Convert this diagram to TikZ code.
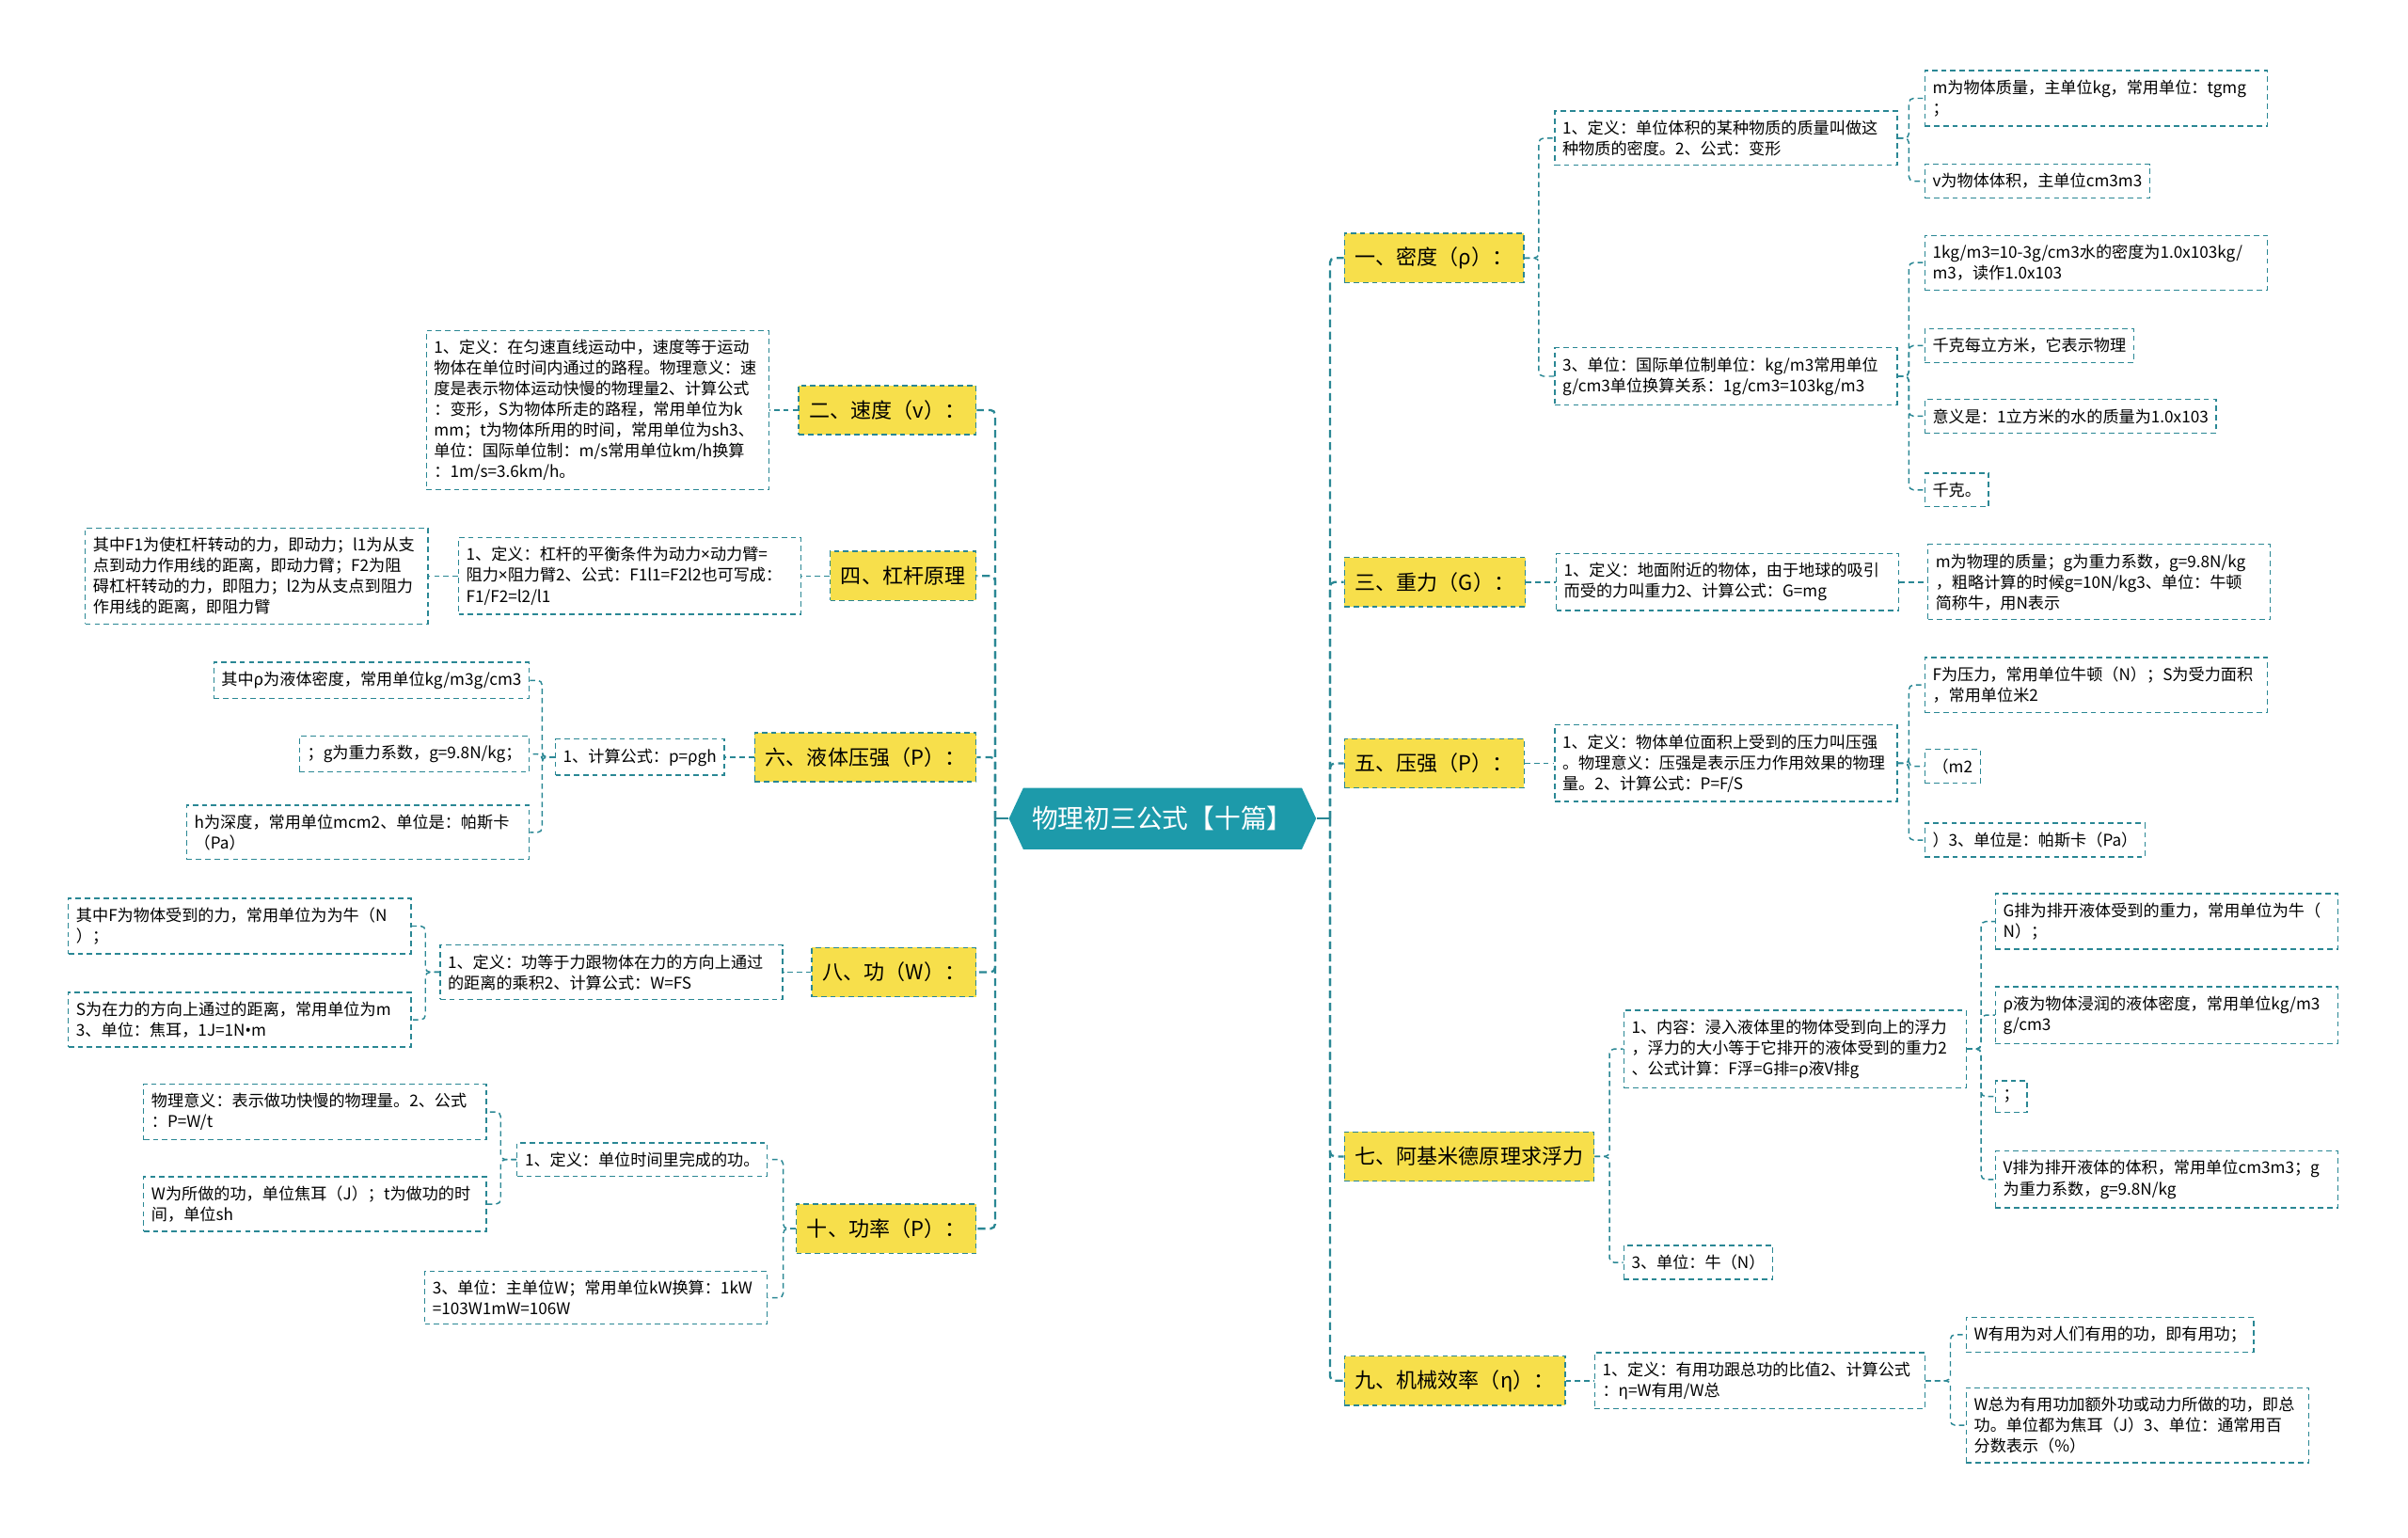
\documentclass[tikz,border=0pt]{standalone}
\usepackage{fontspec}
\newfontfamily\cjk{Noto Sans CJK SC}
\newfontfamily\latinf{Noto Sans}
\usetikzlibrary{shapes.symbols}
\definecolor{teal1}{HTML}{2A8794}
\definecolor{hubc}{HTML}{1D9AAA}
\definecolor{yel}{HTML}{F7DF4B}
\tikzset{
  leaf/.style={draw=teal1, line width=0.8pt, dash pattern=on 3.5pt off 2.5pt, fill=white,
    font=\cjk\fontsize{10.5}{13.5}\selectfont, align=left, inner xsep=5pt, inner ysep=6pt},
  wide/.style={leaf, text width=213pt},
  topic/.style={draw=teal1, line width=0.9pt, dash pattern=on 3.5pt off 2.5pt, fill=yel,
    font=\cjk\fontsize{13.5}{16}\selectfont, minimum height=32pt, inner xsep=7pt},
  hubnode/.style={shape=signal, signal to=west and east, signal pointer angle=130,
    fill=hubc, text=white, font=\cjk\fontsize{17}{20}\selectfont,
    minimum width=200pt, minimum height=40pt, inner sep=0pt},
  conn/.style={draw=teal1, line width=0.9pt, dash pattern=on 3.5pt off 2.5pt, rounded corners=3pt},
  trunk/.style={draw=teal1, line width=1.4pt, dash pattern=on 5pt off 3pt, rounded corners=3pt},
  stub/.style={draw=teal1, line width=1.4pt}
}
\newcommand{\mybul}{{\latinf •}}
\newcommand{\mytimes}{{\latinf ×}}
\begin{document}
\begin{tikzpicture}[x=1pt,y=-1pt]
\useasboundingbox (0,0) rectangle (1568,1001);

% hub
\node[hubnode] (hub) at (757,533) {物理初三公式【十篇】};
\coordinate (lsp) at (648,533);
\coordinate (rsp) at (866,533);

% level-1 left
\node[topic, anchor=east] (n2) at (636,267) {二、速度（v）：};
\node[topic, anchor=east] (n4) at (636,375) {四、杠杆原理};
\node[topic, anchor=east] (n6) at (636,493) {六、液体压强（P）：};
\node[topic, anchor=east] (n8) at (636,633) {八、功（W）：};
\node[topic, anchor=east] (n10) at (636,800) {十、功率（P）：};

% level-1 right
\node[topic, anchor=west] (n1) at (875,168) {一、密度（ρ）：};
\node[topic, anchor=west] (n3) at (875,379) {三、重力（G）：};
\node[topic, anchor=west] (n5) at (875,497) {五、压强（P）：};
\node[topic, anchor=west] (n7) at (875,753) {七、阿基米德原理求浮力};
\node[topic, anchor=west] (n9) at (875,899) {九、机械效率（η）：};

% ---- left details
\node[wide, anchor=east] (v1) at (501,267) {1、定义：在匀速直线运动中，速度等于运动\\物体在单位时间内通过的路程。物理意义：速\\度是表示物体运动快慢的物理量2、计算公式\\：变形，S为物体所走的路程，常用单位为k\\mm；t为物体所用的时间，常用单位为sh3、\\单位：国际单位制：m/s常用单位km/h换算\\：1m/s=3.6km/h。};

\node[wide, anchor=east] (l1) at (522,375) {1、定义：杠杆的平衡条件为动力\mytimes 动力臂=\\阻力\mytimes 阻力臂2、公式：F1l1=F2l2也可写成：\\F1/F2=l2/l1};
\node[wide, anchor=east] (l2) at (279,375) {其中F1为使杠杆转动的力，即动力；l1为从支\\点到动力作用线的距离，即动力臂；F2为阻\\碍杠杆转动的力，即阻力；l2为从支点到阻力\\作用线的距离，即阻力臂};

\node[leaf, anchor=east] (p1) at (472,493) {1、计算公式：p=ρgh};
\node[leaf, anchor=east] (p2) at (345,443) {其中ρ为液体密度，常用单位kg/m3g/cm3};
\node[leaf, anchor=east] (p3) at (345,491) {；g为重力系数，g=9.8N/kg；};
\node[wide, anchor=east] (p4) at (345,542) {h为深度，常用单位mcm2、单位是：帕斯卡\\（Pa）};

\node[wide, anchor=east] (w1) at (510,633) {1、定义：功等于力跟物体在力的方向上通过\\的距离的乘积2、计算公式：W=FS};
\node[wide, anchor=east] (w2) at (268,603) {其中F为物体受到的力，常用单位为为牛（N\\）；};
\node[wide, anchor=east] (w3) at (268,664) {S为在力的方向上通过的距离，常用单位为m\\3、单位：焦耳，1J=1N\mybul m};

\node[leaf, anchor=east] (r1) at (500,755) {1、定义：单位时间里完成的功。};
\node[wide, anchor=east] (r2) at (317,724) {物理意义：表示做功快慢的物理量。2、公式\\：P=W/t};
\node[wide, anchor=east] (r3) at (317,784) {W为所做的功，单位焦耳（J）；t为做功的时\\间，单位sh};
\node[wide, anchor=east] (r4) at (500,845) {3、单位：主单位W；常用单位kW换算：1kW\\=103W1mW=106W};

% ---- right details
\node[wide, anchor=west] (d1) at (1012,90) {1、定义：单位体积的某种物质的质量叫做这\\种物质的密度。2、公式：变形};
\node[wide, anchor=west] (d2) at (1253,64) {m为物体质量，主单位kg，常用单位：tgmg\\；};
\node[leaf, anchor=west] (d3) at (1253,118) {v为物体体积，主单位cm3m3};
\node[wide, anchor=west] (d4) at (1012,245) {3、单位：国际单位制单位：kg/m3常用单位\\g/cm3单位换算关系：1g/cm3=103kg/m3};
\node[wide, anchor=west] (d5) at (1253,171) {1kg/m3=10-3g/cm3水的密度为1.0x103kg/\\m3，读作1.0x103};
\node[leaf, anchor=west] (d6) at (1253,225) {千克每立方米，它表示物理};
\node[leaf, anchor=west] (d7) at (1253,271) {意义是：1立方米的水的质量为1.0x103};
\node[leaf, anchor=west] (d8) at (1253,319) {千克。};

\node[wide, anchor=west] (g1) at (1013,379) {1、定义：地面附近的物体，由于地球的吸引\\而受的力叫重力2、计算公式：G=mg};
\node[wide, anchor=west] (g2) at (1255,379) {m为物理的质量；g为重力系数，g=9.8N/kg\\，粗略计算的时候g=10N/kg3、单位：牛顿\\简称牛，用N表示};

\node[wide, anchor=west] (s1) at (1012,497) {1、定义：物体单位面积上受到的压力叫压强\\。物理意义：压强是表示压力作用效果的物理\\量。2、计算公式：P=F/S};
\node[wide, anchor=west] (s2) at (1253,446) {F为压力，常用单位牛顿（N）；S为受力面积\\，常用单位米2};
\node[leaf, anchor=west] (s3) at (1253,499) {（m2};
\node[leaf, anchor=west] (s4) at (1253,547) {）3、单位是：帕斯卡（Pa）};

\node[wide, anchor=west] (a1) at (1057,683) {1、内容：浸入液体里的物体受到向上的浮力\\，浮力的大小等于它排开的液体受到的重力2\\、公式计算：F浮=G排=ρ液V排g};
\node[wide, anchor=west] (a2) at (1299,600) {G排为排开液体受到的重力，常用单位为牛（\\N）；};
\node[wide, anchor=west] (a3) at (1299,661) {ρ液为物体浸润的液体密度，常用单位kg/m3\\g/cm3};
\node[leaf, anchor=west] (a4) at (1299,714) {；};
\node[wide, anchor=west] (a5) at (1299,768) {V排为排开液体的体积，常用单位cm3m3；g\\为重力系数，g=9.8N/kg};
\node[leaf, anchor=west] (a6) at (1057,822) {3、单位：牛（N）};

\node[leaf, text width=205pt, anchor=west] (e1) at (1038,899) {1、定义：有用功跟总功的比值2、计算公式\\：η=W有用/W总};
\node[leaf, anchor=west] (e2) at (1280,869) {W有用为对人们有用的功，即有用功；};
\node[wide, anchor=west] (e3) at (1280,928) {W总为有用功加额外功或动力所做的功，即总\\功。单位都为焦耳（J）3、单位：通常用百\\分数表示（\%）};

% ---- trunk connectors
\draw[stub] (hub.west) -- (lsp);
\draw[stub] (hub.east) -- (rsp);
\foreach \n in {n2,n4,n6,n8,n10} \draw[trunk] (lsp) |- (\n.east);
\foreach \n in {n1,n3,n5,n7,n9} \draw[trunk] (rsp) |- (\n.west);

% ---- left connectors
\draw[conn] (n2.west) -- (v1.east);
\draw[conn] (n4.west) -- (l1.east);
\draw[conn] (l1.west) -- (l2.east);
\draw[conn] (n6.west) -- (p1.east);
\foreach \c in {p2,p3,p4} \draw[conn] (p1.west) -| ([xshift=8pt]\c.east) -- (\c.east);
\draw[conn] (n8.west) -- (w1.east);
\foreach \c in {w2,w3} \draw[conn] (w1.west) -| ([xshift=9pt]\c.east) -- (\c.east);
\foreach \c in {r1,r4} \draw[conn] (n10.west) -| ([xshift=10pt]\c.east) -- (\c.east);
\foreach \c in {r2,r3} \draw[conn] (r1.west) -| ([xshift=9pt]\c.east) -- (\c.east);

% ---- right connectors
\foreach \c in {d1,d4} \draw[conn] (n1.east) -| ([xshift=-10pt]\c.west) -- (\c.west);
\foreach \c in {d2,d3} \draw[conn] (d1.east) -| ([xshift=-10pt]\c.west) -- (\c.west);
\foreach \c in {d5,d6,d7,d8} \draw[conn] (d4.east) -| ([xshift=-10pt]\c.west) -- (\c.west);
\draw[conn] (n3.east) -- (g1.west);
\draw[conn] (g1.east) -- (g2.west);
\draw[conn] (n5.east) -- (s1.west);
\foreach \c in {s2,s3,s4} \draw[conn] (s1.east) -| ([xshift=-10pt]\c.west) -- (\c.west);
\foreach \c in {a1,a6} \draw[conn] (n7.east) -| ([xshift=-9pt]\c.west) -- (\c.west);
\foreach \c in {a2,a3,a4,a5} \draw[conn] (a1.east) -| ([xshift=-9pt]\c.west) -- (\c.west);
\draw[conn] (n9.east) -- (e1.west);
\foreach \c in {e2,e3} \draw[conn] (e1.east) -| ([xshift=-10pt]\c.west) -- (\c.west);
\end{tikzpicture}
\end{document}
